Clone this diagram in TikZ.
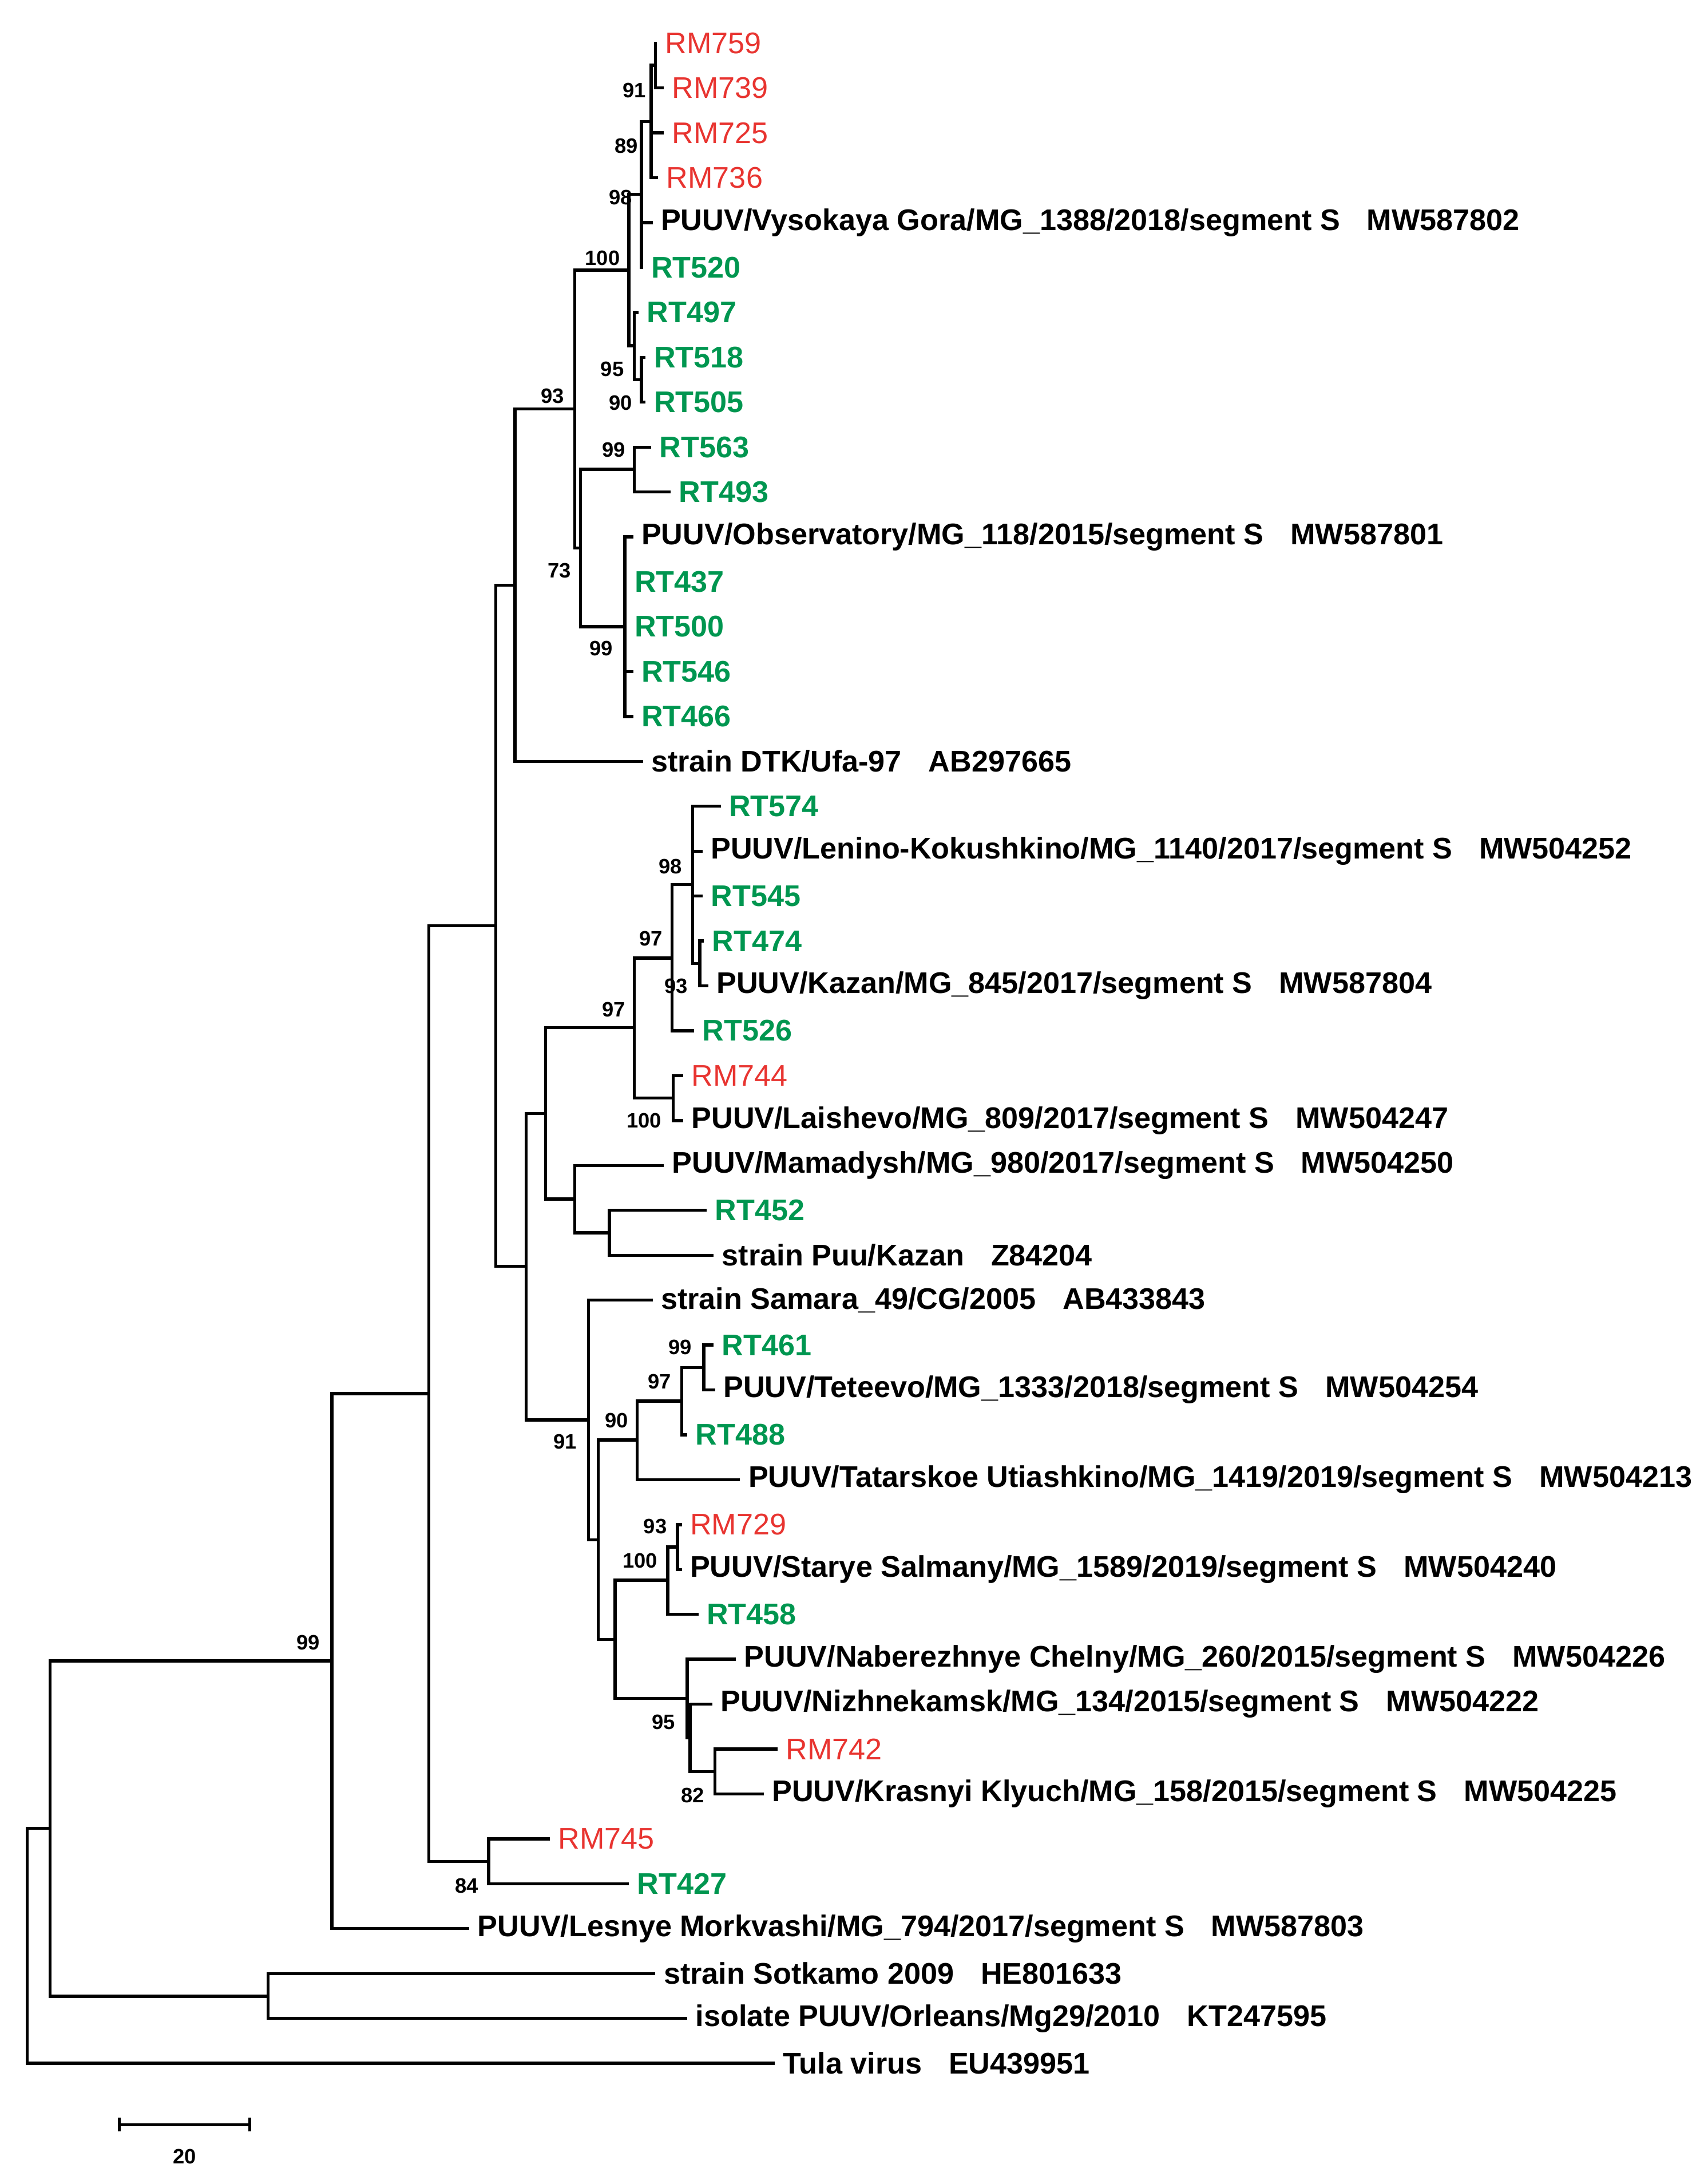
\documentclass[tikz,border=0pt]{standalone}
\usepackage{fontspec}
\setmainfont{Liberation Sans}
\definecolor{rmred}{RGB}{232,52,48}
\definecolor{rtgreen}{RGB}{0,150,80}
\begin{document}
\begin{tikzpicture}[x=1pt,y=-1pt,line width=2.2pt,
  lab/.style={anchor=west,inner sep=0pt,xshift=6pt,font=\fontsize{21.5}{21.5}\selectfont\bfseries},
  blk/.style={lab,text=black},
  grn/.style={lab,text=rtgreen},
  red/.style={lab,text=rmred,font=\fontsize{21.5}{21.5}\selectfont},
  bs/.style={inner sep=0pt,font=\fontsize{15}{15}\selectfont\bfseries}]
\useasboundingbox (0,0) rectangle (1230,1567);
\newcommand\tleaf[5]{\coordinate (#1) at (#2,{31+(#3-1)*32.33}); \node[#5] (#1l) at (#1) {#4};}
\newcommand\acc{\hspace{0.9em}}
\tleaf{t1}{472}{1}{RM759}{red}
\tleaf{t2}{477}{2}{RM739}{red}
\tleaf{t3}{477}{3}{RM725}{red}
\tleaf{t4}{473}{4}{RM736}{red}
\tleaf{t5}{469}{5}{PUUV/Vysokaya Gora/MG\_1388/2018/segment S\acc MW587802}{blk}
\tleaf{t6}{462}{6}{RT520}{grn}
\tleaf{t7}{459}{7}{RT497}{grn}
\tleaf{t8}{464}{8}{RT518}{grn}
\tleaf{t9}{464}{9}{RT505}{grn}
\tleaf{t10}{468}{10}{RT563}{grn}
\tleaf{t11}{482}{11}{RT493}{grn}
\tleaf{t12}{455}{12}{PUUV/Observatory/MG\_118/2015/segment S\acc MW587801}{blk}
\tleaf{t13}{450}{13}{RT437}{grn}
\tleaf{t14}{450}{14}{RT500}{grn}
\tleaf{t15}{455}{15}{RT546}{grn}
\tleaf{t16}{455}{16}{RT466}{grn}
\tleaf{t17}{462}{17}{strain DTK/Ufa-97\acc AB297665}{blk}
\tleaf{t18}{518}{18}{RT574}{grn}
\tleaf{t19}{505}{19}{PUUV/Lenino-Kokushkino/MG\_1140/2017/segment S\acc MW504252}{blk}
\tleaf{t20}{505}{20}{RT545}{grn}
\tleaf{t21}{506}{21}{RT474}{grn}
\tleaf{t22}{509}{22}{PUUV/Kazan/MG\_845/2017/segment S\acc MW587804}{blk}
\tleaf{t23}{499}{23}{RT526}{grn}
\tleaf{t24}{491}{24}{RM744}{red}
\tleaf{t25}{491}{25}{PUUV/Laishevo/MG\_809/2017/segment S\acc MW504247}{blk}
\tleaf{t26}{477}{26}{PUUV/Mamadysh/MG\_980/2017/segment S\acc MW504250}{blk}
\tleaf{t27}{508}{27}{RT452}{grn}
\tleaf{t28}{513}{28}{strain Puu/Kazan\acc Z84204}{blk}
\tleaf{t29}{469}{29}{strain Samara\_49/CG/2005\acc AB433843}{blk}
\tleaf{t30}{513}{30}{RT461}{grn}
\tleaf{t31}{514}{31}{PUUV/Teteevo/MG\_1333/2018/segment S\acc MW504254}{blk}
\tleaf{t32}{494}{32}{RT488}{grn}
\tleaf{t33}{532}{33}{PUUV/Tatarskoe Utiashkino/MG\_1419/2019/segment S\acc MW504213}{blk}
\tleaf{t34}{490}{34}{RM729}{red}
\tleaf{t35}{490}{35}{PUUV/Starye Salmany/MG\_1589/2019/segment S\acc MW504240}{blk}
\tleaf{t36}{502}{36}{RT458}{grn}
\tleaf{t37}{529}{37}{PUUV/Naberezhnye Chelny/MG\_260/2015/segment S\acc MW504226}{blk}
\tleaf{t38}{512}{38}{PUUV/Nizhnekamsk/MG\_134/2015/segment S\acc MW504222}{blk}
\tleaf{t39}{559}{39}{RM742}{red}
\tleaf{t40}{549}{40}{PUUV/Krasnyi Klyuch/MG\_158/2015/segment S\acc MW504225}{blk}
\tleaf{t41}{395}{41}{RM745}{red}
\tleaf{t42}{452}{42}{RT427}{grn}
\tleaf{t43}{337}{43}{PUUV/Lesnye Morkvashi/MG\_794/2017/segment S\acc MW587803}{blk}
\tleaf{t44}{471}{44}{strain Sotkamo 2009\acc HE801633}{blk}
\tleaf{t45}{494}{45}{isolate PUUV/Orleans/Mg29/2010\acc KT247595}{blk}
\tleaf{t46}{557}{46}{Tula virus\acc EU439951}{blk}
% internal nodes
\coordinate (a91) at (472,47);
\coordinate (a89) at (469,87.5);
\coordinate (a98) at (462,140);
\coordinate (b95) at (462,273.5);
\coordinate (bb) at (457,249);
\coordinate (a100) at (453,194.5);
\coordinate (c99) at (457,338);
\coordinate (d99) at (450,451.3);
\coordinate (c73) at (418,394.5);
\coordinate (n93) at (414,294.5);
\coordinate (e) at (371,421.4);
\coordinate (s93) at (504,693.8);
\coordinate (n98) at (499,637);
\coordinate (n97b) at (484,690);
\coordinate (n100) at (485,790.8);
\coordinate (n97c) at (457,740);
\coordinate (q) at (439,887.8);
\coordinate (p) at (414,863.5);
\coordinate (r) at (393,801.8);
\coordinate (w99) at (507,984.8);
\coordinate (w97) at (491,1009);
\coordinate (n90) at (459,1037);
\coordinate (x93) at (488,1114);
\coordinate (n100b) at (481,1138);
\coordinate (z82) at (515,1275.8);
\coordinate (y2) at (497,1251.5);
\coordinate (y95) at (495,1223);
\coordinate (v) at (443,1180.5);
\coordinate (u) at (431,1108.8);
\coordinate (t91) at (424,1022.5);
\coordinate (g) at (379,912);
\coordinate (f) at (357,666.7);
\coordinate (i84) at (352,1340.5);
\coordinate (h) at (309,1003.6);
\coordinate (j99) at (239,1196);
\coordinate (l) at (193,1437.5);
\coordinate (k) at (36,1316.7);
\coordinate (root) at (19.5,1401);
% edges
\foreach \pa/\ch in {a91/t1,a91/t2,a89/a91,a89/t3,a89/t4,a98/a89,a98/t5,a98/t6,
  b95/t8,b95/t9,bb/t7,bb/b95,a100/a98,a100/bb,c99/t10,c99/t11,
  d99/t12,d99/t13,d99/t14,d99/t15,d99/t16,c73/c99,c73/d99,n93/a100,n93/c73,
  e/n93,e/t17,s93/t21,s93/t22,n98/t18,n98/t19,n98/t20,n98/s93,n97b/n98,n97b/t23,
  n100/t24,n100/t25,n97c/n97b,n97c/n100,q/t27,q/t28,p/t26,p/q,r/n97c,r/p,
  w99/t30,w99/t31,w97/w99,w97/t32,n90/w97,n90/t33,x93/t34,x93/t35,n100b/x93,n100b/t36,
  z82/t39,z82/t40,y2/t38,y2/z82,y95/t37,y95/y2,v/n100b,v/y95,u/n90,u/v,
  t91/t29,t91/u,g/r,g/t91,f/e,f/g,i84/t41,i84/t42,h/f,h/i84,j99/h,j99/t43,
  l/t44,l/t45,k/j99,k/l,root/k,root/t46}
  \draw[line cap=rect] (\pa) |- (\ch);
% bootstrap values
\node[bs] (v1) at (457,65) {91};
\node[bs] (v2) at (451,105) {89};
\node[bs] (v3) at (447,142) {98};
\node[bs] (v4) at (434,186) {100};
\node[bs] (v5) at (441,266) {95};
\node[bs] (v6) at (447,290) {90};
\node[bs] (v7) at (398,285) {93};
\node[bs] (v8) at (442,324) {99};
\node[bs] (v9) at (403,411) {73};
\node[bs] (v10) at (433,467) {99};
\node[bs] (v11) at (483,624) {98};
\node[bs] (v12) at (469,676) {97};
\node[bs] (v13) at (487,710) {93};
\node[bs] (v14) at (442,727) {97};
\node[bs] (v15) at (464,807) {100};
\node[bs] (v16) at (490,970) {99};
\node[bs] (v17) at (475,995) {97};
\node[bs] (v18) at (444,1023) {90};
\node[bs] (v19) at (407,1038) {91};
\node[bs] (v20) at (472,1099) {93};
\node[bs] (v21) at (461,1124) {100};
\node[bs] (v22) at (478,1240) {95};
\node[bs] (v23) at (499,1293) {82};
\node[bs] (v24) at (336,1358) {84};
\node[bs] (v25) at (222,1183) {99};
% scale bar
\coordinate (sb1) at (86,1530);
\coordinate (sb2) at (180,1530);
\draw (sb1) -- (sb2);
\draw ([yshift=-5pt]sb1) -- ([yshift=5pt]sb1);
\draw ([yshift=-5pt]sb2) -- ([yshift=5pt]sb2);
\node[bs] (sbl) at (133,1553) {20};
\end{tikzpicture}
\end{document}
